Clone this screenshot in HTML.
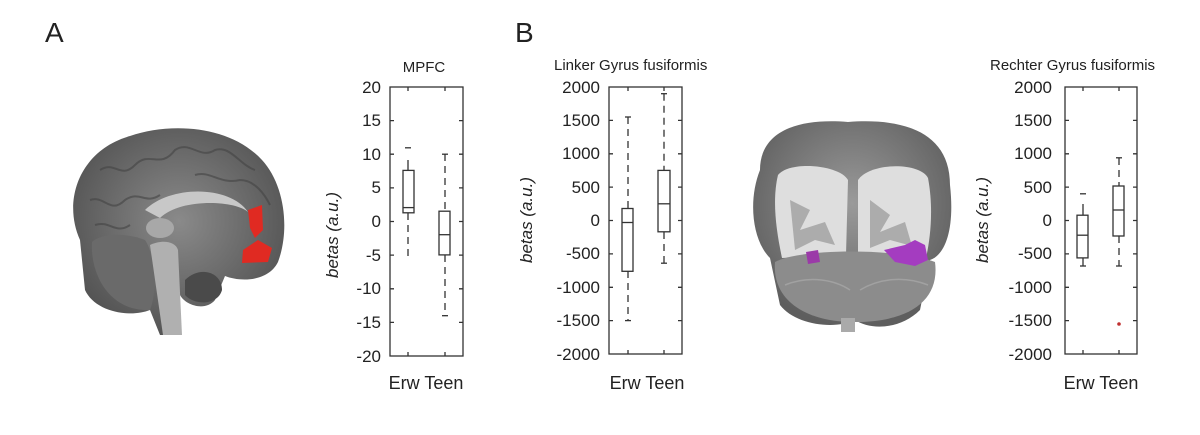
<!DOCTYPE html>
<html><head><style>
html,body{margin:0;padding:0;background:#fff;}
svg{display:block;}
text{font-family:"Liberation Sans",sans-serif;fill:#222;}
</style></head><body>
<svg width="1200" height="435" viewBox="0 0 1200 435">
<defs>
<radialGradient id="gb" cx="50%" cy="45%" r="60%"><stop offset="0" stop-color="#8a8a8a"/><stop offset="1" stop-color="#505050"/></radialGradient>
<radialGradient id="gc" cx="50%" cy="40%" r="60%"><stop offset="0" stop-color="#9a9a9a"/><stop offset="1" stop-color="#5e5e5e"/></radialGradient>
</defs>
<text x="45" y="42" font-size="28">A</text>
<text x="515" y="42" font-size="28">B</text>

<!-- sagittal brain -->
<path d="M80,240 C62,200 80,150 130,136 C170,122 230,125 262,160 C285,185 290,230 278,262 C268,282 240,282 225,276 L215,300 C205,312 185,305 180,295 L178,335 L160,335 L150,310 C130,318 95,312 85,290 Z" fill="url(#gb)"/>
<g stroke="#444" stroke-width="2" fill="none" opacity=".6">
<path d="M100,170 C115,160 120,180 135,165 C150,150 160,170 175,150 C190,140 200,160 215,150 C230,145 240,165 255,170"/>
<path d="M90,200 C105,195 110,215 125,200 C140,190 145,205 160,195"/>
<path d="M195,175 C210,170 220,185 240,180 C255,180 265,195 270,205"/>
<path d="M95,225 C110,220 115,235 130,225"/>
</g>
<path d="M92,242 C90,275 110,312 150,310 C158,290 155,255 145,240 C125,232 100,234 92,242Z" fill="#6a6a6a"/>
<path d="M150,245 C160,240 175,240 178,250 L182,335 L163,335 Z" fill="#b0b0b0"/>
<path d="M145,210 C170,185 230,185 248,212 C235,200 180,198 160,218 Z" fill="#c8c8c8"/>
<ellipse cx="160" cy="228" rx="14" ry="10" fill="#a8a8a8"/>
<path d="M185,280 C200,265 222,272 222,290 C218,305 195,306 185,295Z" fill="#4a4a4a"/>
<path d="M248,210 L262,205 L263,230 L255,238 L250,228Z" fill="#e02a22"/>
<path d="M243,250 L258,240 L272,248 L268,262 L242,263Z" fill="#e02a22"/>

<!-- coronal brain -->
<path d="M760,170 C760,130 800,118 848,122 C900,118 950,130 950,185 C955,230 945,255 930,260 L920,310 C900,330 870,330 855,320 C835,330 795,325 780,305 L770,258 C752,240 748,200 760,170Z" fill="url(#gc)"/>
<path d="M778,175 C790,160 840,165 848,180 L846,255 L782,258 C776,230 772,200 778,175Z" fill="#dedede"/>
<path d="M858,180 C870,162 920,162 928,178 C934,210 930,240 926,258 L858,255Z" fill="#dedede"/>
<path d="M790,200 L810,210 L800,230 L825,222 L835,245 L815,240 L795,250Z" fill="#8a8a8a" opacity=".6"/>
<path d="M870,200 L890,215 L880,232 L905,222 L912,246 L890,240 L870,248Z" fill="#8a8a8a" opacity=".6"/>
<path d="M775,262 C800,248 900,248 935,262 C940,300 910,322 855,322 C805,322 772,300 775,262Z" fill="#8c8c8c"/>
<g stroke="#aaa" stroke-width="1.5" fill="none" opacity=".7"><path d="M785,285 C810,275 835,280 850,290"/><path d="M860,290 C880,278 905,276 928,285"/></g>
<rect x="841" y="318" width="14" height="14" fill="#aaa"/>
<path d="M806,252 L818,250 L820,262 L808,264Z" fill="#9b3aa8"/>
<path d="M884,250 L905,245 L915,240 L925,245 L928,260 L915,266 L895,262Z" fill="#a43cc0"/>

<!-- Plot 1 MPFC -->
<g stroke="#333" stroke-width="1.3" fill="none">
<rect x="390" y="87" width="73" height="269"/>
<path d="M390,120.6h4M390,154.2h4M390,187.9h4M390,221.5h4M390,255.1h4M390,288.8h4M390,322.4h4M463,120.6h-4M463,154.2h-4M463,187.9h-4M463,221.5h-4M463,255.1h-4M463,288.8h-4M463,322.4h-4M408,87v4M445,87v4M408,356v-4M445,356v-4"/>
<rect x="403" y="170.4" width="11" height="42.4"/>
<line x1="403" y1="207.6" x2="414" y2="207.6"/>
<line x1="408" y1="160" x2="408" y2="170" />
<line x1="405" y1="147.8" x2="411" y2="147.8"/>
<line x1="408" y1="213" x2="408" y2="258" stroke-dasharray="7,5"/>
<rect x="439" y="211.2" width="11" height="43.7"/>
<line x1="439" y1="234.7" x2="450" y2="234.7"/>
<line x1="445" y1="154" x2="445" y2="211" stroke-dasharray="7,5"/>
<line x1="442" y1="154.2" x2="448" y2="154.2"/>
<line x1="445" y1="255" x2="445" y2="315.7" stroke-dasharray="7,5"/>
<line x1="442" y1="315.7" x2="448" y2="315.7"/>
</g>
<g font-size="17" text-anchor="end">
<text x="381" y="93">20</text><text x="381" y="126">15</text><text x="381" y="160">10</text><text x="381" y="193">5</text><text x="381" y="227" fill="#666">0</text><text x="381" y="261">-5</text><text x="381" y="294">-10</text><text x="381" y="328">-15</text><text x="381" y="362">-20</text>
</g>
<text x="424" y="72" font-size="15" text-anchor="middle">MPFC</text>
<text x="426" y="389" font-size="18" text-anchor="middle">Erw Teen</text>
<text transform="translate(338,235) rotate(-90)" font-size="17" font-style="italic" text-anchor="middle">betas (a.u.)</text>

<!-- Plot 2 Linker -->
<g stroke="#333" stroke-width="1.3" fill="none">
<rect x="609" y="87" width="73" height="267"/>
<path d="M609,120.4h4M609,153.8h4M609,187.1h4M609,220.5h4M609,253.9h4M609,287.3h4M609,320.6h4M682,120.4h-4M682,153.8h-4M682,187.1h-4M682,220.5h-4M682,253.9h-4M682,287.3h-4M682,320.6h-4M628,87v4M664,87v4M628,354v-4M664,354v-4"/>
<rect x="622" y="208.5" width="11" height="62.8"/>
<line x1="622" y1="222.5" x2="633" y2="222.5"/>
<line x1="628" y1="117" x2="628" y2="208" stroke-dasharray="7,5"/>
<line x1="625" y1="117" x2="631" y2="117"/>
<line x1="628" y1="271" x2="628" y2="320.6" stroke-dasharray="7,5"/>
<line x1="625" y1="320.6" x2="631" y2="320.6"/>
<rect x="658" y="170.4" width="12" height="61.4"/>
<line x1="658" y1="203.8" x2="670" y2="203.8"/>
<line x1="664" y1="93.7" x2="664" y2="170" stroke-dasharray="7,5"/>
<line x1="661" y1="93.7" x2="667" y2="93.7"/>
<line x1="664" y1="232" x2="664" y2="263" stroke-dasharray="7,5"/>
<line x1="661" y1="263.2" x2="667" y2="263.2"/>
</g>
<g font-size="17" text-anchor="end">
<text x="600" y="93">2000</text><text x="600" y="126">1500</text><text x="600" y="159">1000</text><text x="600" y="193">500</text><text x="600" y="226">0</text><text x="600" y="259">-500</text><text x="600" y="293">-1000</text><text x="600" y="326">-1500</text><text x="600" y="360">-2000</text>
</g>
<text x="554" y="70" font-size="15">Linker Gyrus fusiformis</text>
<text x="647" y="389" font-size="18" text-anchor="middle">Erw Teen</text>
<text transform="translate(532,220) rotate(-90)" font-size="17" font-style="italic" text-anchor="middle">betas (a.u.)</text>

<!-- Plot 3 Rechter -->
<g stroke="#333" stroke-width="1.3" fill="none">
<rect x="1065" y="87" width="72" height="267"/>
<path d="M1065,120.4h4M1065,153.8h4M1065,187.1h4M1065,220.5h4M1065,253.9h4M1065,287.3h4M1065,320.6h4M1137,120.4h-4M1137,153.8h-4M1137,187.1h-4M1137,220.5h-4M1137,253.9h-4M1137,287.3h-4M1137,320.6h-4M1083,87v4M1119,87v4M1083,354v-4M1119,354v-4"/>
<rect x="1077" y="215.2" width="11" height="42.7"/>
<line x1="1077" y1="235.2" x2="1088" y2="235.2"/>
<line x1="1083" y1="204" x2="1083" y2="215"/>
<line x1="1080" y1="193.8" x2="1086" y2="193.8"/>
<line x1="1083" y1="258" x2="1083" y2="266"/>
<line x1="1080" y1="266" x2="1086" y2="266"/>
<rect x="1113" y="186" width="11" height="50"/>
<line x1="1113" y1="210" x2="1124" y2="210"/>
<line x1="1119" y1="158" x2="1119" y2="186" stroke-dasharray="7,5"/>
<line x1="1116" y1="157.8" x2="1122" y2="157.8"/>
<line x1="1119" y1="236" x2="1119" y2="266" stroke-dasharray="7,5"/>
<line x1="1116" y1="266" x2="1122" y2="266"/>
</g>
<circle cx="1119" cy="324" r="1.8" fill="#c03030"/>
<g font-size="17" text-anchor="end">
<text x="1052" y="93">2000</text><text x="1052" y="126">1500</text><text x="1052" y="159">1000</text><text x="1052" y="193">500</text><text x="1052" y="226">0</text><text x="1052" y="259">-500</text><text x="1052" y="293">-1000</text><text x="1052" y="326">-1500</text><text x="1052" y="360">-2000</text>
</g>
<text x="990" y="70" font-size="15">Rechter Gyrus fusiformis</text>
<text x="1101" y="389" font-size="18" text-anchor="middle">Erw Teen</text>
<text transform="translate(988,220) rotate(-90)" font-size="17" font-style="italic" text-anchor="middle">betas (a.u.)</text>
</svg>
</body></html>
